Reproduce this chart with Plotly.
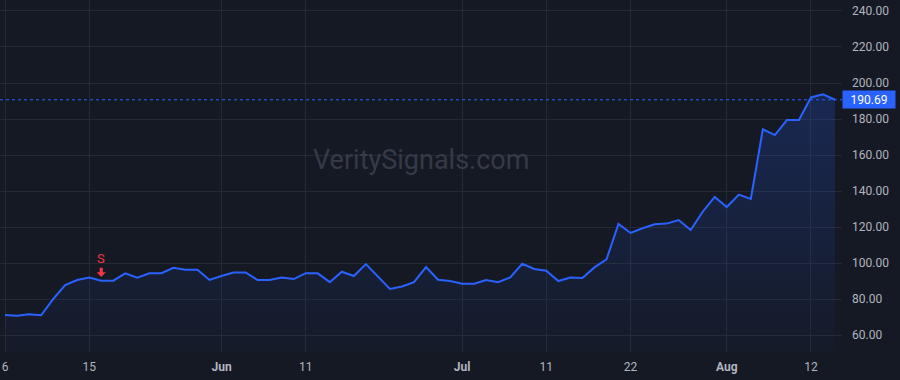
import plotly.graph_objects as go

# ---- data (bar index = trading day) ----
bar_index = list(range(70))
close_values = [
    71.1, 70.7, 71.5, 71.0, 80.0, 87.8, 90.6, 91.9, 90.2, 90.2,
    94.3, 91.9, 94.3, 94.4, 97.4, 96.3, 96.3, 90.6, 92.8, 94.8,
    94.8, 90.6, 90.6, 92.0, 91.1, 94.4, 94.3, 89.4, 95.2, 92.8,
    99.4, 92.6, 85.6, 87.0, 89.4, 97.8, 90.7, 90.0, 88.5, 88.5,
    90.6, 89.4, 92.0, 99.6, 96.7, 95.7, 90.0, 92.0, 91.7, 97.6,
    102.0, 121.7, 116.7, 119.3, 121.5, 121.9, 123.9, 118.3, 128.5, 136.7,
    131.1, 138.0, 135.6, 174.3, 171.1, 179.4, 179.4, 192.0, 193.7, 190.69,
]
x_tick_positions = [0, 7, 18, 25, 38, 45, 52, 60, 67]
x_tick_labels = ["6", "15", "<b>Jun</b>", "11", "<b>Jul</b>", "11", "22", "<b>Aug</b>", "12"]
y_tick_values = [60, 80, 100, 120, 140, 160, 180, 200, 220, 240]
y_tick_labels = ["60.00", "80.00", "100.00", "120.00", "140.00", "160.00",
                 "180.00", "200.00", "220.00", "240.00"]
signal_index = 8
signal_label = "S"
last_price = close_values[-1]
watermark = "VeritySignals.com"

BG = "#151924"
GRID = "#252934"
BLUE = "#2962ff"
RED = "#f23645"
TXT = "#b2b5be"
FONT = "Roboto, Arial, sans-serif"

fig = go.Figure()
fig.add_trace(go.Scatter(
    x=bar_index, y=close_values, mode="lines",
    line=dict(color=BLUE, width=2),
    fill="tozeroy",
    fillgradient=dict(type="vertical", start=50, stop=200,
                      colorscale=[[0, "rgba(41,98,255,0.02)"], [1, "rgba(41,98,255,0.22)"]]),
    hoverinfo="skip", showlegend=False,
))

# last price dotted line
fig.add_shape(type="line", xref="paper", x0=0, x1=1, yref="y",
              y0=last_price, y1=last_price,
              line=dict(color=BLUE, width=1, dash="dot"))
# last price label
fig.add_annotation(xref="paper", x=1, xanchor="left", yref="y", y=last_price,
                   text=f"{last_price:.2f}", showarrow=False,
                   font=dict(family=FONT, size=12, color="#ffffff"),
                   bgcolor=BLUE, borderpad=2, width=48, height=13)

# sell signal arrow (pixel-sized path anchored at the signal bar)
sig_y = close_values[signal_index]
fig.add_shape(type="path", xref="x", yref="y",
              xsizemode="pixel", ysizemode="pixel",
              xanchor=signal_index, yanchor=sig_y,
              path="M -1.6,13 L 1.6,13 L 1.6,8.5 L 4.6,8.5 L 0,3.8 L -4.6,8.5 L -1.6,8.5 Z",
              fillcolor=RED, line=dict(width=0))
fig.add_annotation(x=signal_index, y=sig_y, xref="x", yref="y", text=signal_label,
                   showarrow=False, yshift=22,
                   font=dict(family=FONT, size=13, color=RED))

# watermark
fig.add_annotation(xref="paper", yref="paper", x=0.5, y=0.545, text=watermark,
                   showarrow=False, font=dict(family=FONT, size=27, color="#363a46"))

fig.update_layout(
    width=900, height=380,
    margin=dict(l=0, r=58, t=0, b=28),
    paper_bgcolor=BG, plot_bgcolor=BG,
    font=dict(family=FONT, size=12, color=TXT),
    xaxis=dict(range=[-0.416, 69.58], tickvals=x_tick_positions, ticktext=x_tick_labels,
               showgrid=True, gridcolor=GRID, gridwidth=1, zeroline=False,
               showline=False, ticks="", ticklabelstandoff=6, fixedrange=True),
    yaxis=dict(side="right", range=[50.6, 246.1], tickvals=y_tick_values,
               ticktext=y_tick_labels, showgrid=True, gridcolor=GRID, gridwidth=1,
               zeroline=False, showline=False, ticks="", ticklabelstandoff=9,
               fixedrange=True),
)

fig.write_html("out.html")
